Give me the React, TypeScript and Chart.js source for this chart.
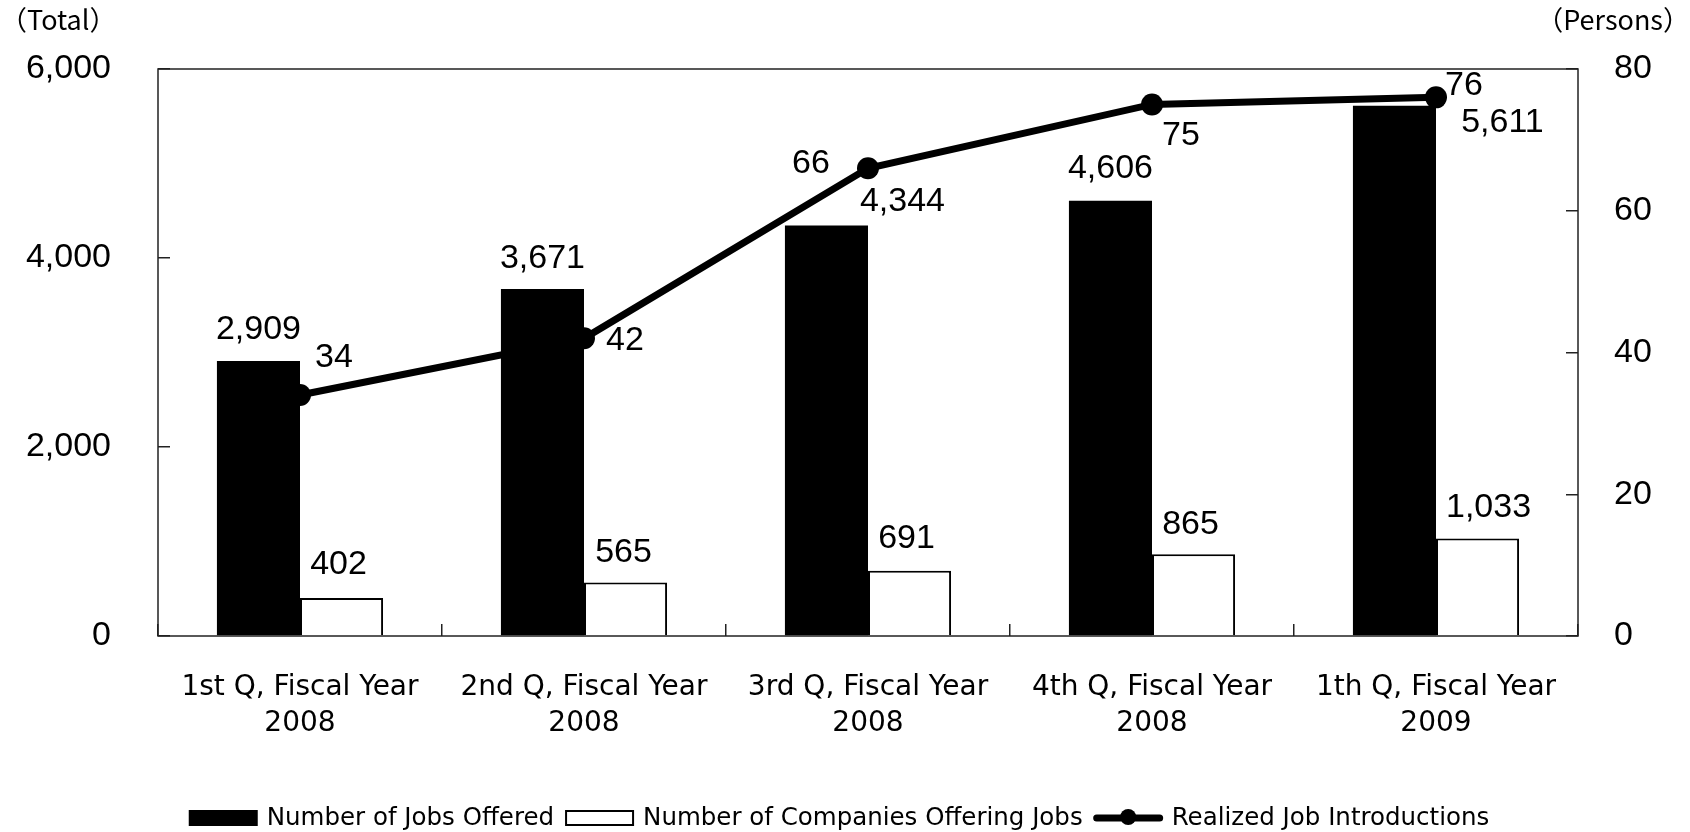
import React, { useEffect, useRef } from "react";
import { Chart, registerables } from "chart.js";

Chart.register(...registerables);

const quarterLabels = [
  "1st Q, Fiscal Year",
  "2nd Q, Fiscal Year",
  "3rd Q, Fiscal Year",
  "4th Q, Fiscal Year",
  "1th Q, Fiscal Year",
];
const yearLabels = ["2008", "2008", "2008", "2008", "2009"];

const jobsOffered = [2909, 3671, 4344, 4606, 5611];
const companiesOffering = [402, 565, 691, 865, 1033];
const realizedIntroductions = [34, 42, 66, 75, 76];

const leftAxis = { min: 0, max: 6000, step: 2000 };
const rightAxis = { min: 0, max: 80, step: 20 };

const seriesNames = [
  "Number of Jobs Offered",
  "Number of Companies Offering Jobs",
  "Realized Job Introductions",
];
const leftUnit = "（Total）";
const rightUnit = "（Persons）";

const NUM_FONT = "'Liberation Sans', Arial, sans-serif";
const TXT_FONT = "'DejaVu Sans', 'Noto Sans CJK JP', sans-serif";
const UNIT_FONT = "'Noto Sans CJK JP', 'DejaVu Sans', sans-serif";

// label offsets (px) relative to each drawn element, per dataset
const labelOffsets = [
  [[0, -31], [0, -30], [76, -24], [0, -32], [108, 17]],
  [[-3, -33], [-2, -30], [-3, -32], [-3, -30], [11, -31]],
  [[34, -37], [41, 2], [-57, -5], [29, 31], [28, -12]],
];

const fmt = (v: number) => v.toLocaleString("en-US");

const frameAndText = {
  id: "frameAndText",
  afterDraw(chart: any) {
    const { ctx, chartArea } = chart;
    ctx.save();
    // plot frame
    ctx.strokeStyle = "#222";
    ctx.lineWidth = 1.5;
    ctx.strokeRect(chartArea.left, chartArea.top, chartArea.right - chartArea.left, chartArea.bottom - chartArea.top);

    // unit labels
    ctx.fillStyle = "#000";
    ctx.font = `27px ${UNIT_FONT}`;
    ctx.textBaseline = "middle";
    ctx.textAlign = "left";
    ctx.fillText(leftUnit, 0, 20);
    ctx.textAlign = "right";
    ctx.fillText(rightUnit, 1690, 20);

    // legend
    ctx.font = `24.5px ${TXT_FONT}`;
    ctx.textAlign = "left";
    const boxW = 69;
    const boxH = 16;
    const gapSym = 9;
    const gapItem = 11;
    const widths = seriesNames.map((n) => ctx.measureText(n).width);
    const total = widths.reduce((a, b) => a + b, 0) + 3 * (boxW + gapSym) + 2 * gapItem;
    let x = 839 - total / 2;
    const cy = 818;
    seriesNames.forEach((name, i) => {
      if (i === 0) {
        ctx.fillStyle = "#000";
        ctx.fillRect(x, cy - boxH / 2, boxW, boxH);
      } else if (i === 1) {
        ctx.fillStyle = "#fff";
        ctx.fillRect(x, cy - boxH / 2, boxW, boxH);
        ctx.strokeStyle = "#000";
        ctx.lineWidth = 2;
        ctx.strokeRect(x + 1, cy - boxH / 2 + 1, boxW - 2, boxH - 2);
      } else {
        ctx.strokeStyle = "#000";
        ctx.lineWidth = 7;
        ctx.lineCap = "round";
        ctx.beginPath();
        ctx.moveTo(x + 3, cy);
        ctx.lineTo(x + boxW - 3, cy);
        ctx.stroke();
        ctx.fillStyle = "#000";
        ctx.beginPath();
        ctx.arc(x + boxW / 2, cy - 1, 8, 0, Math.PI * 2);
        ctx.fill();
      }
      x += boxW + gapSym;
      ctx.fillStyle = "#000";
      ctx.fillText(name, x, cy + 1);
      x += widths[i] + gapItem;
    });
    ctx.restore();
  },
};

const valueLabels = {
  id: "valueLabels",
  afterDatasetsDraw(chart: any) {
    const { ctx } = chart;
    ctx.save();
    ctx.font = `34px ${NUM_FONT}`;
    ctx.fillStyle = "#000";
    ctx.textAlign = "center";
    ctx.textBaseline = "middle";
    chart.data.datasets.forEach((ds: any, i: number) => {
      const meta = chart.getDatasetMeta(i);
      meta.data.forEach((el: any, j: number) => {
        const [dx, dy] = labelOffsets[i][j];
        ctx.fillText(fmt(ds.data[j]), el.x + dx, el.y + dy);
      });
    });
    ctx.restore();
  },
};

const noPad = (s: any) => {
  s.paddingTop = 0;
  s.paddingBottom = 0;
  s.paddingLeft = 0;
  s.paddingRight = 0;
};

export default function App() {
  const ref = useRef<HTMLCanvasElement | null>(null);

  useEffect(() => {
    if (!ref.current) return;
    Chart.defaults.color = "#000";
    const chart = new Chart(ref.current, {
      type: "bar",
      data: {
        labels: quarterLabels.map((q, i) => [q, yearLabels[i]]),
        datasets: [
          {
            type: "bar",
            label: seriesNames[0],
            data: jobsOffered,
            backgroundColor: "#000",
            borderColor: "#000",
            borderWidth: 0,
            yAxisID: "y",
            order: 1,
            categoryPercentage: 0.585,
            barPercentage: 1,
          },
          {
            type: "bar",
            label: seriesNames[1],
            data: companiesOffering,
            backgroundColor: "#fff",
            borderColor: "#000",
            borderWidth: 2,
            yAxisID: "y",
            order: 1,
            categoryPercentage: 0.585,
            barPercentage: 1,
          },
          {
            type: "line",
            label: seriesNames[2],
            data: realizedIntroductions,
            borderColor: "#000",
            backgroundColor: "#000",
            borderWidth: 7,
            pointRadius: 11,
            pointBackgroundColor: "#000",
            pointBorderWidth: 0,
            tension: 0,
            yAxisID: "y1",
            order: 0,
          },
        ],
      } as any,
      options: {
        animation: false,
        responsive: false,
        maintainAspectRatio: false,
        layout: { padding: { top: 69, left: 0, right: 0, bottom: 0 } },
        plugins: {
          legend: { display: false },
          tooltip: { enabled: false },
        },
        scales: {
          x: {
            offset: true,
            border: { display: false },
            grid: {
              offset: true,
              drawOnChartArea: false,
              drawTicks: true,
              tickLength: -12,
              color: "#222",
              lineWidth: 1.5,
            },
            ticks: {
              padding: 46,
              maxRotation: 0,
              autoSkip: false,
              color: "#000",
              font: { family: TXT_FONT, size: 28, lineHeight: 36 / 28 },
            },
            afterFit: (s: any) => {
              s.height = 196;
              noPad(s);
            },
          },
          y: {
            position: "left",
            min: leftAxis.min,
            max: leftAxis.max,
            border: { display: false },
            grid: {
              drawOnChartArea: false,
              drawTicks: true,
              tickLength: -12,
              color: "#222",
              lineWidth: 1.5,
            },
            ticks: {
              stepSize: leftAxis.step,
              padding: 59,
              color: "#000",
              font: { family: NUM_FONT, size: 34 },
              callback: (v: any) => fmt(Number(v)),
            },
            afterFit: (s: any) => {
              s.width = 158;
              noPad(s);
            },
          },
          y1: {
            position: "right",
            min: rightAxis.min,
            max: rightAxis.max,
            border: { display: false },
            grid: {
              drawOnChartArea: false,
              drawTicks: true,
              tickLength: -12,
              color: "#222",
              lineWidth: 1.5,
            },
            ticks: {
              stepSize: rightAxis.step,
              padding: 48,
              color: "#000",
              font: { family: NUM_FONT, size: 34 },
            },
            afterFit: (s: any) => {
              s.width = 112;
              noPad(s);
            },
          },
        },
      } as any,
      plugins: [valueLabels, frameAndText],
    });
    return () => chart.destroy();
  }, []);

  return (
    <div style={{ position: "absolute", left: 0, top: 0, width: 1690, height: 832, background: "#fff" }}>
      <canvas ref={ref} width={1690} height={832} style={{ display: "block" }} />
    </div>
  );
}
